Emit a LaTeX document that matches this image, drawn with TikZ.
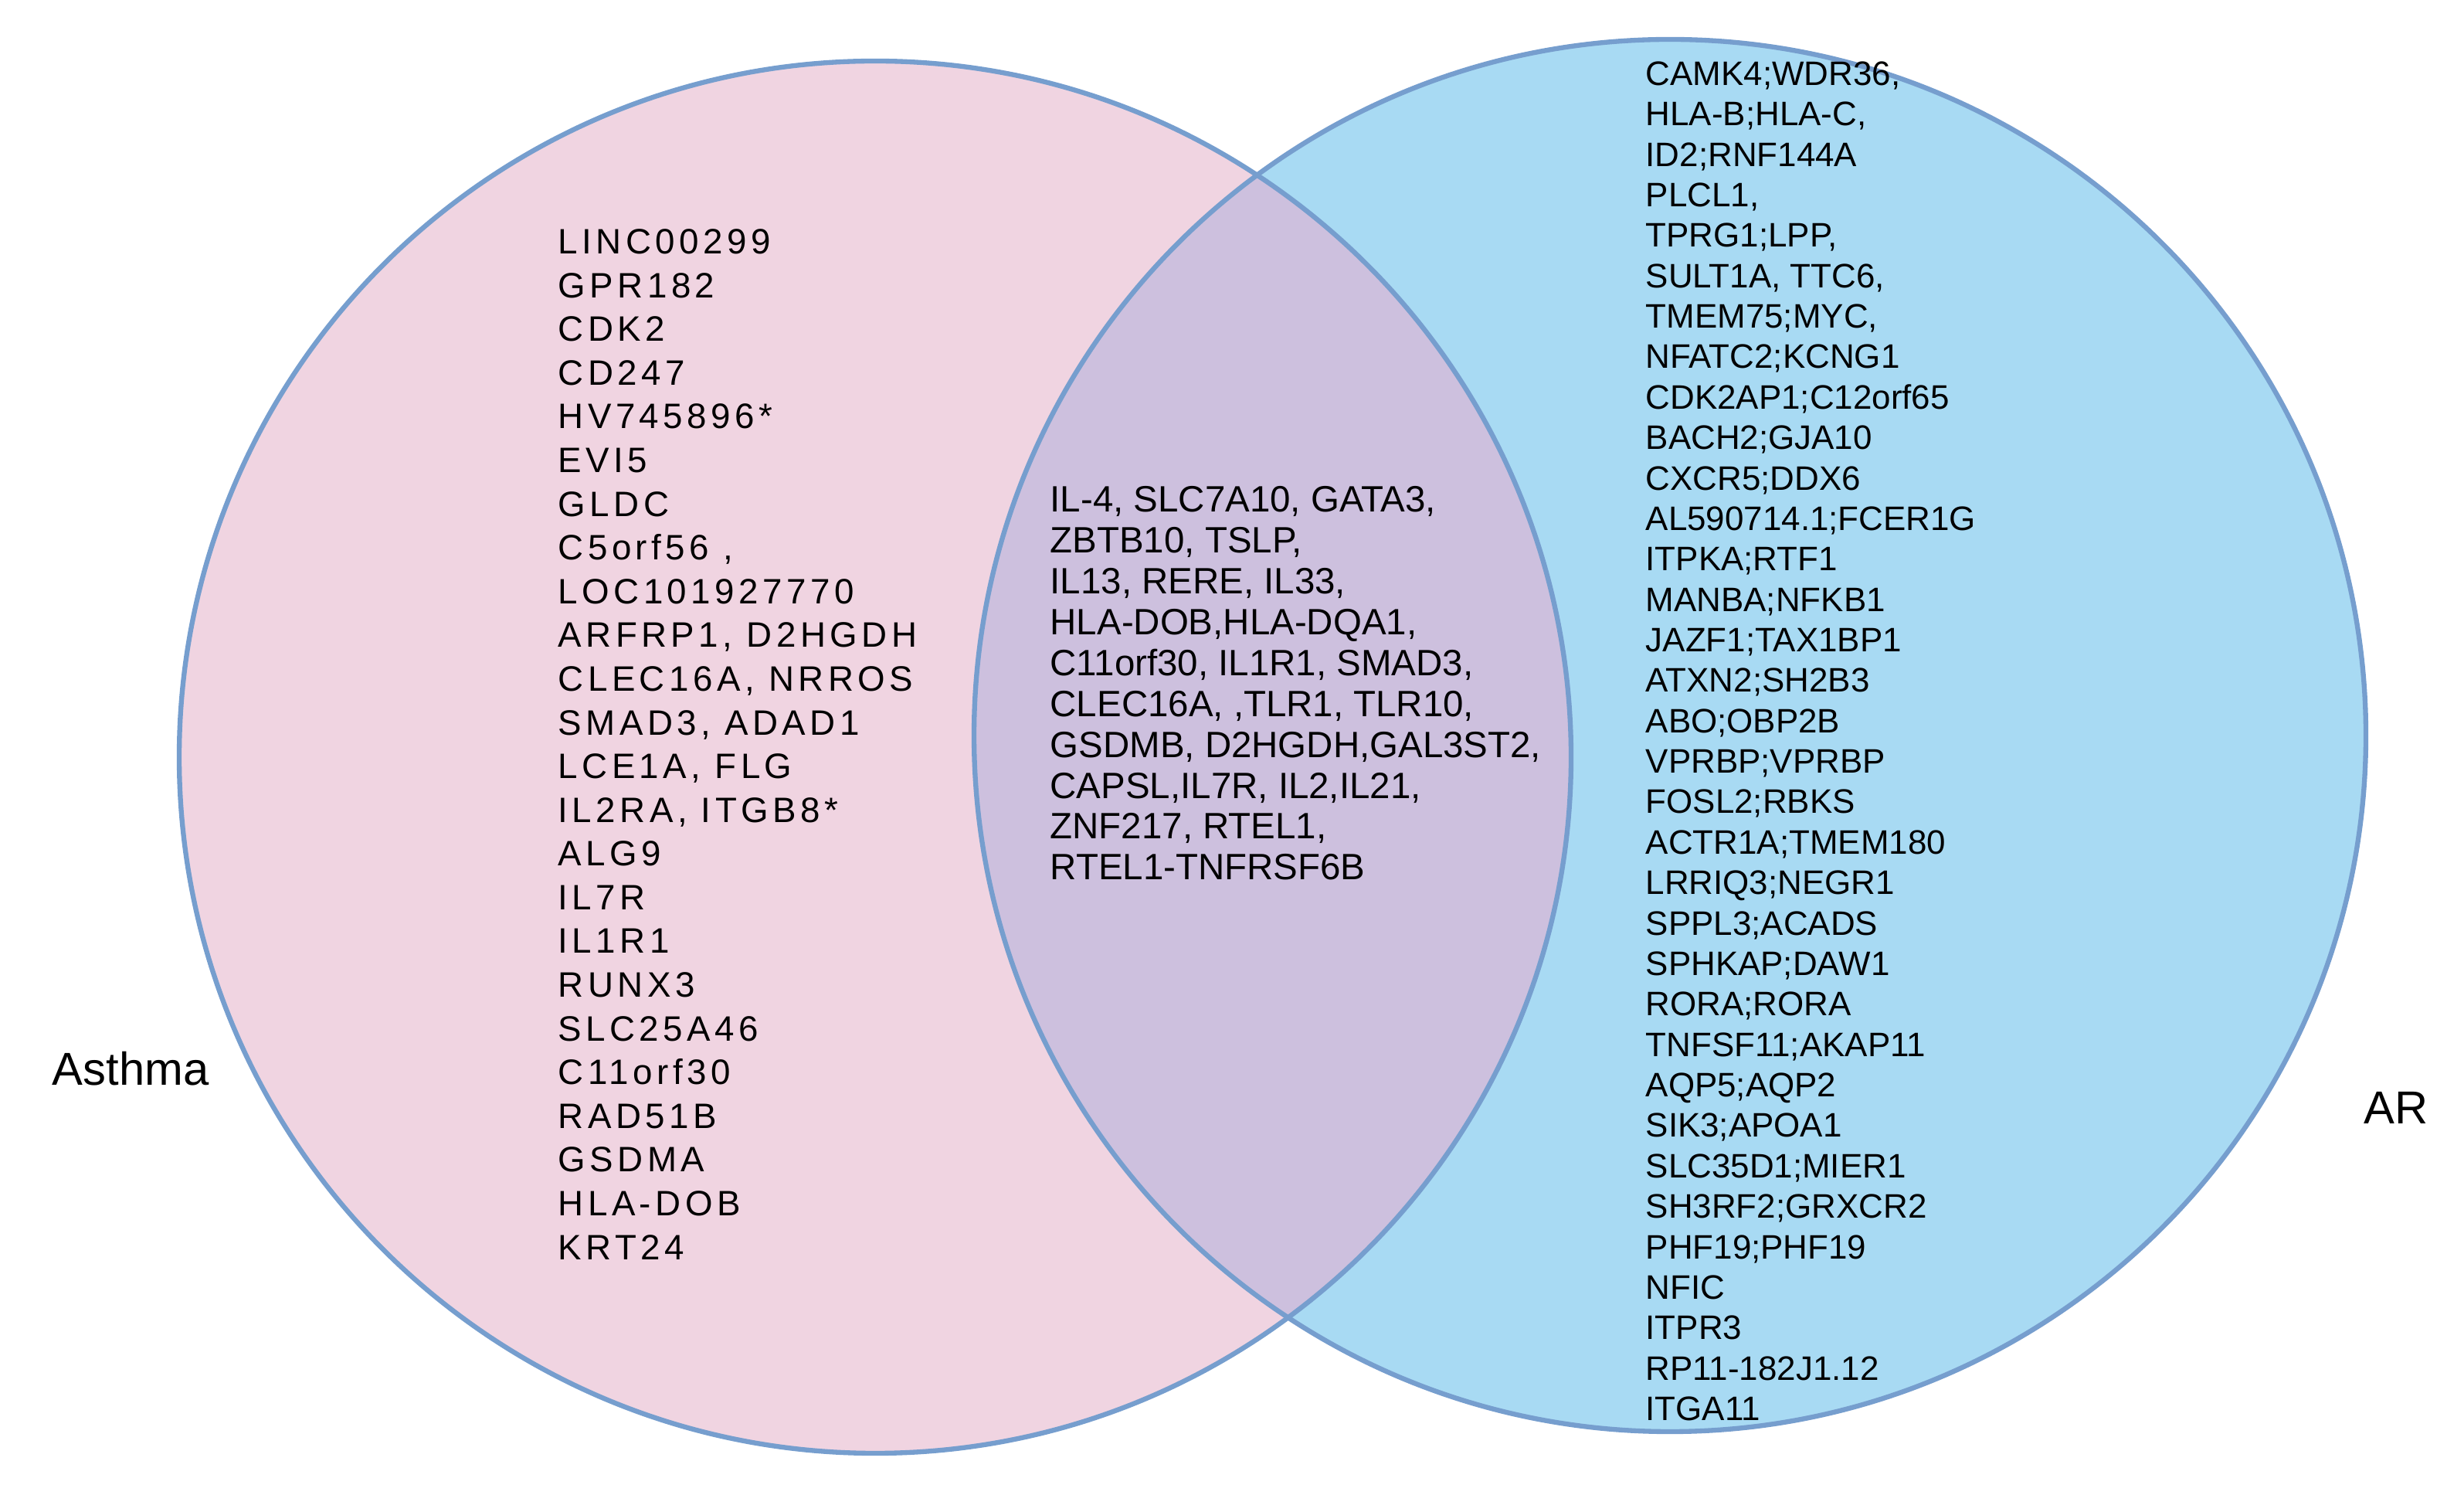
\documentclass[tikz,border=0pt]{standalone}
\usepackage{fontspec}
\setmainfont{Liberation Sans}
\begin{document}
\begin{tikzpicture}
\definecolor{pk}{RGB}{240,212,225}
\definecolor{bl}{RGB}{168,218,243}
\definecolor{mx}{RGB}{205,192,222}
\definecolor{rim}{RGB}{118,158,206}
\tikzset{
  genes/.style={anchor=north west,inner sep=0pt,align=left,font=\fontsize{12.5}{14.9}\selectfont},
  lbl/.style={inner sep=0pt,font=\fontsize{17}{20}\selectfont}
}
\useasboundingbox (0,0) rectangle (31.9,19.34);

\fill[pk] (11.33,9.54) circle (9.01);
\fill[bl] (21.62,9.82) circle (9.01);
\begin{scope}
\clip (11.33,9.54) circle (9.01);
\fill[mx] (21.62,9.82) circle (9.01);
\end{scope}
\draw[rim,line width=1.8pt] (11.33,9.54) circle (9.01);
\draw[rim,line width=1.8pt] (21.62,9.82) circle (9.01);

\node[lbl] (asthma) at (1.69,5.51) {Asthma};
\node[lbl] (ar) at (31.02,5.00) {AR};

\node[genes,font=\fontsize{13}{16.1}\selectfont\addfontfeature{LetterSpace=12}] (left) at (7.22,16.38) {LINC00299\\GPR182\\CDK2\\CD247\\HV745896*\\EVI5\\GLDC\\C5orf56 ,\\LOC101927770\\ARFRP1, D2HGDH\\CLEC16A, NRROS\\SMAD3, ADAD1\\LCE1A, FLG\\IL2RA, ITGB8*\\ALG9\\IL7R\\IL1R1\\RUNX3\\SLC25A46\\C11orf30\\RAD51B\\GSDMA\\HLA-DOB\\KRT24};

\node[genes,font=\fontsize{13.5}{15.05}\selectfont] (both) at (13.59,13.05) {IL-4, SLC7A10, GATA3,\\ZBTB10, TSLP,\\IL13, RERE, IL33,\\HLA-DOB,HLA-DQA1,\\C11orf30, IL1R1, SMAD3,\\CLEC16A, ,TLR1, TLR10,\\GSDMB, D2HGDH,GAL3ST2,\\CAPSL,IL7R, IL2,IL21,\\ZNF217, RTEL1,\\RTEL1-TNFRSF6B};

\node[genes] (right) at (21.30,18.55) {CAMK4;WDR36,\\HLA-B;HLA-C,\\ID2;RNF144A\\PLCL1,\\TPRG1;LPP,\\SULT1A, TTC6,\\TMEM75;MYC,\\NFATC2;KCNG1\\CDK2AP1;C12orf65\\BACH2;GJA10\\CXCR5;DDX6\\AL590714.1;FCER1G\\ITPKA;RTF1\\MANBA;NFKB1\\JAZF1;TAX1BP1\\ATXN2;SH2B3\\ABO;OBP2B\\VPRBP;VPRBP\\FOSL2;RBKS\\ACTR1A;TMEM180\\LRRIQ3;NEGR1\\SPPL3;ACADS\\SPHKAP;DAW1\\RORA;RORA\\TNFSF11;AKAP11\\AQP5;AQP2\\SIK3;APOA1\\SLC35D1;MIER1\\SH3RF2;GRXCR2\\PHF19;PHF19\\NFIC\\ITPR3\\RP11-182J1.12\\ITGA11};
\end{tikzpicture}
\end{document}
